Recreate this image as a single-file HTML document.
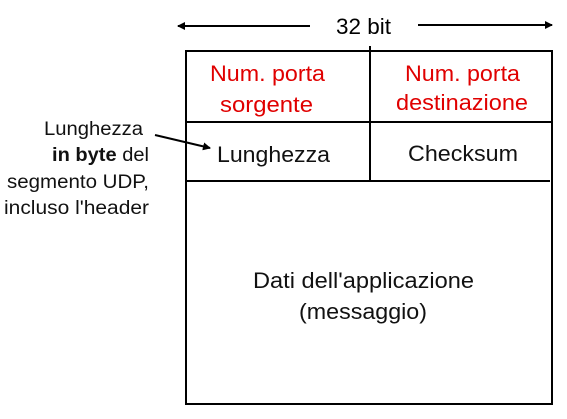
<!DOCTYPE html>
<html><head><style>
html,body{margin:0;padding:0;background:#fff;}
svg{display:block;}
text{font-family:"Liberation Sans Narrow","Liberation Sans",sans-serif;}
</style></head><body>
<svg width="567" height="419" viewBox="0 0 567 419" xmlns="http://www.w3.org/2000/svg">
<defs>
<marker id="ah" markerWidth="8" markerHeight="8" refX="7" refY="4" orient="auto" markerUnits="userSpaceOnUse">
<path d="M0,0 L8,4 L0,8 z" fill="#000"/>
</marker>
</defs>
<g stroke="#000" stroke-width="2" fill="none">
<rect x="186" y="51" width="366" height="353"/>
<line x1="370" y1="46" x2="370" y2="181"/>
<line x1="186" y1="122" x2="552" y2="122"/>
<line x1="186" y1="181" x2="550" y2="181"/>
<line x1="310" y1="26" x2="178" y2="26" marker-end="url(#ah)"/>
<line x1="418" y1="25" x2="552" y2="25" marker-end="url(#ah)"/>
<line x1="155" y1="135" x2="210" y2="148" marker-end="url(#ah)"/>
</g>
<text x="336" y="34" font-size="22" fill="#000" textLength="55" lengthAdjust="spacingAndGlyphs">32 bit</text>
<g font-size="22" fill="#e00000">
<text x="210" y="81" textLength="115" lengthAdjust="spacingAndGlyphs">Num. porta</text>
<text x="220" y="112" textLength="93" lengthAdjust="spacingAndGlyphs">sorgente</text>
<text x="405" y="81" textLength="115" lengthAdjust="spacingAndGlyphs">Num. porta</text>
<text x="396" y="110" textLength="132" lengthAdjust="spacingAndGlyphs">destinazione</text>
</g>
<g font-size="22" fill="#111">
<text x="217" y="162" textLength="113" lengthAdjust="spacingAndGlyphs">Lunghezza</text>
<text x="408" y="161" textLength="110" lengthAdjust="spacingAndGlyphs">Checksum</text>
<text x="253" y="288" textLength="221" lengthAdjust="spacingAndGlyphs">Dati dell'applicazione</text>
<text x="299" y="319" textLength="128" lengthAdjust="spacingAndGlyphs">(messaggio)</text>
</g>
<g font-size="19" fill="#111">
<text x="44" y="135" textLength="99" lengthAdjust="spacingAndGlyphs">Lunghezza</text>
<text x="52" y="161" textLength="97" lengthAdjust="spacingAndGlyphs"><tspan font-weight="bold">in byte</tspan> del</text>
<text x="7" y="188" textLength="142" lengthAdjust="spacingAndGlyphs">segmento UDP,</text>
<text x="4" y="214" textLength="145" lengthAdjust="spacingAndGlyphs">incluso l'header</text>
</g>
</svg>
</body></html>
